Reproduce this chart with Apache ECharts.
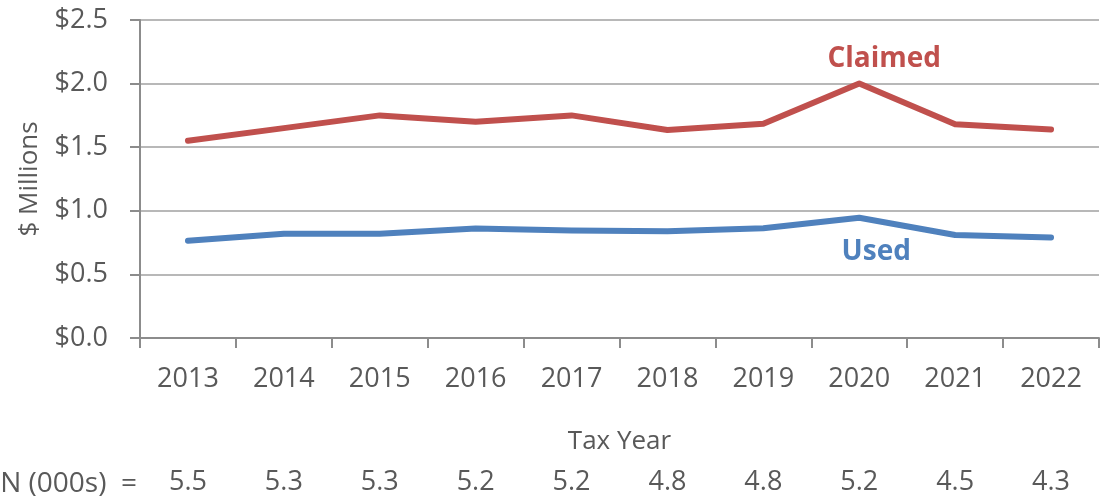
<!DOCTYPE html>
<html>
<head>
<meta charset="utf-8">
<script src="https://cdn.jsdelivr.net/npm/echarts@6/dist/echarts.min.js"></script>
<style>html,body{margin:0;padding:0;background:#fff}#c{width:1101px;height:502px}</style>
</head>
<body>
<div id="c"></div>
<script>
const years = ['2013','2014','2015','2016','2017','2018','2019','2020','2021','2022'];
const claimed = [1.55, 1.65, 1.75, 1.70, 1.75, 1.635, 1.685, 2.00, 1.68, 1.64];
const used = [0.765, 0.82, 0.82, 0.86, 0.845, 0.84, 0.862, 0.945, 0.81, 0.79];
const nCounts = ['5.5','5.3','5.3','5.2','5.2','4.8','4.8','5.2','4.5','4.3'];
const yTicks = [0, 0.5, 1.0, 1.5, 2.0, 2.5];
const labelIdx = 7;

const FONT = 'Open Sans';
const txt = '#595959';
const chart = echarts.init(document.getElementById('c'));

function withLabel(arr, name, color, pos, offset) {
  return arr.map((v, i) => i === labelIdx ? {
    value: v,
    label: { show: true, formatter: name, position: pos, offset: offset, color: color,
      fontFamily: FONT, fontWeight: 'bold', fontSize: 28 }
  } : v);
}

chart.setOption({
  animation: false,
  grid: { left: 140, right: 2, top: 20, bottom: 164, outerBoundsMode: 'none', containLabel: false },
  xAxis: [{
    type: 'category', data: years, boundaryGap: true,
    axisLine: { lineStyle: { color: '#8c8c8c', width: 2 } },
    axisTick: { show: true, alignWithLabel: false, length: 10, lineStyle: { color: '#8c8c8c', width: 2 } },
    axisLabel: { color: txt, fontFamily: FONT, fontSize: 27, margin: 28 },
    name: 'Tax Year', nameLocation: 'middle', nameGap: 91,
    nameTextStyle: { color: txt, fontFamily: FONT, fontSize: 26 }
  }, {
    type: 'category', data: nCounts, position: 'bottom', offset: 131,
    axisLine: { show: false }, axisTick: { show: false },
    axisLabel: { color: txt, fontFamily: FONT, fontSize: 27, margin: 0 },
    name: 'N (000s)  =', nameLocation: 'start', nameGap: 3,
    nameTextStyle: { color: txt, fontFamily: FONT, fontSize: 28, verticalAlign: 'top', padding: [1, 0, 0, 0] }
  }],
  yAxis: {
    type: 'value', min: 0, max: 2.5, interval: 0.5,
    axisLine: { show: true, lineStyle: { color: '#8c8c8c', width: 2 } },
    axisTick: { show: true, length: 10, lineStyle: { color: '#8c8c8c', width: 2 } },
    splitLine: { lineStyle: { color: '#b8b8b8', width: 2 } },
    axisLabel: { color: txt, fontFamily: FONT, fontSize: 27, margin: 32,
      formatter: v => yTicks.includes(v) ? '$' + v.toFixed(1) : '' },
    name: '$ Millions', nameLocation: 'middle', nameGap: 97,
    nameTextStyle: { color: txt, fontFamily: FONT, fontSize: 26 }
  },
  series: [{
    name: 'Claimed', type: 'line', data: withLabel(claimed, 'Claimed', '#C0504D', 'top', [25, -5]),
    xAxisIndex: 0, showSymbol: true, symbol: 'circle', symbolSize: 1,
    itemStyle: { color: '#C0504D' },
    lineStyle: { color: '#C0504D', width: 6, cap: 'round', join: 'round' }
  }, {
    name: 'Used', type: 'line', data: withLabel(used, 'Used', '#4F81BD', 'bottom', [17, 15]),
    xAxisIndex: 0, showSymbol: true, symbol: 'circle', symbolSize: 1,
    itemStyle: { color: '#4F81BD' },
    lineStyle: { color: '#4F81BD', width: 6, cap: 'round', join: 'round' }
  }]
});
</script>
</body>
</html>
